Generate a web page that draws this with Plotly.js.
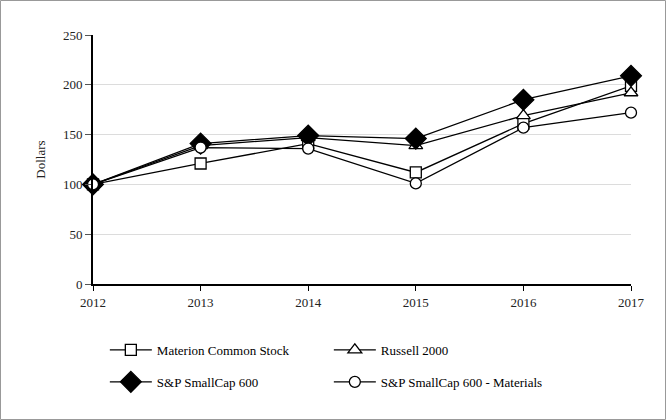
<!DOCTYPE html>
<html><head><meta charset="utf-8">
<script src="https://cdn.plot.ly/plotly-3.0.1.min.js"></script>
<style>html,body{margin:0;padding:0;background:#fff;}#chart{width:666px;height:420px;}</style>
</head><body><div id="chart"></div>
<script>
var years = [2012, 2013, 2014, 2015, 2016, 2017];
var seriesNames = ["Materion Common Stock", "Russell 2000", "S&P SmallCap 600", "S&P SmallCap 600 - Materials"];
var materion = [100, 121, 141, 112, 161, 199];
var russell = [100, 139, 147, 139, 169, 192];
var sp600 = [100, 141, 149, 146, 185, 209];
var materials = [100, 137, 136, 101, 157, 172];
var yTicks = [0, 50, 100, 150, 200, 250];

var font = "Liberation Serif, Times New Roman, serif";
function tr(y, name, sym, fill, size, leg){
  return {x: years, y: y, name: name, type: 'scatter', mode: 'lines+markers',
    line: {color: '#000', width: 1.3},
    marker: {symbol: sym, size: size, color: fill, line: {color: '#000', width: 1.3}},
    cliponaxis: false, legend: leg};
}
var data = [
  tr(materion, seriesNames[0], 'square', '#fff', 11, 'legend'),
  tr(russell, seriesNames[1], 'triangle-up', '#fff', 12, 'legend'),
  tr(sp600, seriesNames[2], 'diamond', '#000', 16, 'legend2'),
  tr(materials, seriesNames[3], 'circle', '#fff', 11, 'legend2')
];
var legCommon = {orientation: 'h', xanchor: 'left', yanchor: 'middle', x: 0.022,
  font: {family: font, size: 13, color: '#000'}, entrywidth: 167, entrywidthmode: 'pixels',
  bgcolor: 'rgba(0,0,0,0)', itemwidth: 42};
var layout = {
  width: 666, height: 420,
  margin: {l: 93, r: 35, t: 35, b: 136},
  paper_bgcolor: '#fff', plot_bgcolor: '#fff',
  font: {family: font, size: 13, color: '#222'},
  showlegend: true,
  legend: Object.assign({}, legCommon, {y: -0.265}),
  legend2: Object.assign({}, legCommon, {y: -0.393}),
  xaxis: {range: [2012, 2017], tickvals: years, ticktext: years.map(String), showgrid: false,
    showline: true, linecolor: '#000', linewidth: 2, ticks: 'outside', ticklen: 5, tickcolor: '#000',
    zeroline: false, tickfont: {family: font, size: 13, color: '#222'}},
  yaxis: {range: [0, 250], tickvals: yTicks, showgrid: true, gridcolor: '#dcdcdc', gridwidth: 1,
    showline: true, linecolor: '#000', linewidth: 2, ticks: 'outside', ticklen: 6, tickcolor: '#555',
    zeroline: false, tickfont: {family: font, size: 13, color: '#222'},
    title: {text: 'Dollars', font: {family: font, size: 13, color: '#222'}, standoff: 14}},
  shapes: [{type: 'rect', xref: 'paper', yref: 'paper',
    x0: -92.5/538, x1: 1 + 34.5/538, y0: -135.5/249, y1: 1 + 34.5/249,
    line: {color: '#999', width: 1}, fillcolor: 'rgba(0,0,0,0)', layer: 'below'}]
};
Plotly.newPlot('chart', data, layout, {staticPlot: true});
</script></body></html>
